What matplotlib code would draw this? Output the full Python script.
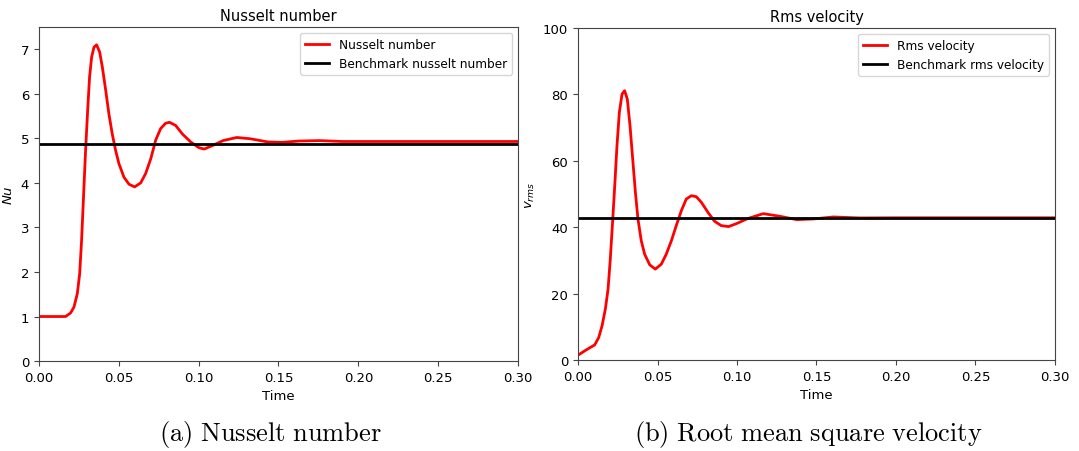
import matplotlib.pyplot as plt
import numpy as np

# Nusselt number history
nu_time = [0.0, 0.008, 0.0167, 0.0198, 0.0219, 0.024, 0.0255, 0.0267, 0.028, 0.0292,
           0.0305, 0.0317, 0.033, 0.0345, 0.0361, 0.038, 0.0397, 0.0418, 0.0438,
           0.0459, 0.048, 0.0501, 0.0532, 0.0564, 0.0599, 0.0637, 0.0668, 0.07,
           0.0731, 0.0762, 0.0793, 0.0818, 0.0856, 0.0898, 0.095, 0.1002, 0.1035,
           0.1088, 0.1153, 0.1239, 0.1325, 0.1433, 0.152, 0.1627, 0.1756, 0.19,
           0.22, 0.26, 0.30]
nu_value = [1.0, 1.0, 1.0, 1.08, 1.21, 1.51, 1.96, 2.71, 3.76, 4.73,
            5.63, 6.38, 6.83, 7.05, 7.1, 6.94, 6.60, 6.08, 5.55,
            5.10, 4.73, 4.43, 4.13, 3.97, 3.91, 4.0, 4.21, 4.54,
            4.96, 5.22, 5.34, 5.36, 5.29, 5.10, 4.92, 4.79, 4.76,
            4.84, 4.95, 5.02, 4.99, 4.92, 4.91, 4.94, 4.95, 4.93,
            4.93, 4.93, 4.93]
NU_BENCHMARK = 4.8844

# rms velocity history
vrms_time = [0.0, 0.0052, 0.0105, 0.013, 0.0151, 0.0172, 0.0189, 0.0203, 0.0216, 0.0231,
             0.0245, 0.026, 0.0277, 0.0293, 0.031, 0.0327, 0.0344, 0.0361, 0.0377,
             0.0398, 0.0419, 0.0451, 0.0486, 0.0524, 0.0555, 0.0587, 0.0618, 0.065,
             0.0681, 0.0713, 0.0744, 0.0776, 0.0817, 0.0859, 0.0901, 0.0947, 0.1002,
             0.1061, 0.1165, 0.127, 0.1375, 0.148, 0.1606, 0.1774, 0.20, 0.24, 0.30]
vrms_value = [1.5, 3.1, 4.6, 6.8, 10.3, 15.4, 21.4, 30.4, 40.5, 52.5,
              64.5, 74.6, 80.1, 81.1, 78.6, 70.6, 60.5, 50.5, 42.5,
              35.9, 31.9, 28.7, 27.4, 28.9, 31.9, 35.9, 40.5, 45.0,
              48.5, 49.5, 49.2, 47.5, 44.5, 41.8, 40.5, 40.2, 41.2,
              42.5, 44.1, 43.3, 42.3, 42.5, 43.1, 42.8, 42.85, 42.85, 42.85]
VRMS_BENCHMARK = 42.865

FONT = 9.5

fig = plt.figure(figsize=(10.79, 4.52), dpi=100)
ax1 = fig.add_axes([0.0361, 0.199, 0.444, 0.739])
ax2 = fig.add_axes([0.5357, 0.201, 0.442, 0.735])

ax1.plot(nu_time, nu_value, color='red', lw=2, label='Nusselt number')
ax1.axhline(NU_BENCHMARK, color='black', lw=2, label='Benchmark nusselt number')
ax1.set_xlim(0, 0.3)
ax1.set_ylim(0, 7.5)
ax1.set_yticks(np.arange(0, 8))
ax1.set_title('Nusselt number', fontsize=FONT + 1, pad=5)
ax1.set_xlabel('Time', fontsize=FONT)
ax1.set_ylabel('$Nu$', fontsize=FONT)

ax2.plot(vrms_time, vrms_value, color='red', lw=2, label='Rms velocity')
ax2.axhline(VRMS_BENCHMARK, color='black', lw=2, label='Benchmark rms velocity')
ax2.set_xlim(0, 0.3)
ax2.set_ylim(0, 100)
ax2.set_title('Rms velocity', fontsize=FONT + 1, pad=5)
ax2.set_xlabel('Time', fontsize=FONT)
ax2.set_ylabel('$v_{rms}$', fontsize=FONT)

for ax in (ax1, ax2):
    ax.set_xticks(np.arange(0, 0.31, 0.05))
    ax.xaxis.set_major_formatter(plt.FormatStrFormatter('%.2f'))
    ax.tick_params(labelsize=FONT, color='#444444')
    for spine in ax.spines.values():
        spine.set_color('#444444')
    ax.legend(loc='upper right', fontsize=8.7)

# subfigure captions in a LaTeX-like serif
fig.text(0.251, 0.024, r'$\mathrm{(a)\ Nusselt\ number}$', ha='center',
         fontsize=19, math_fontfamily='cm')
fig.text(0.749, 0.024, r'$\mathrm{(b)\ Root\ mean\ square\ velocity}$', ha='center',
         fontsize=19, math_fontfamily='cm')

fig.savefig('out.png', dpi=100)
